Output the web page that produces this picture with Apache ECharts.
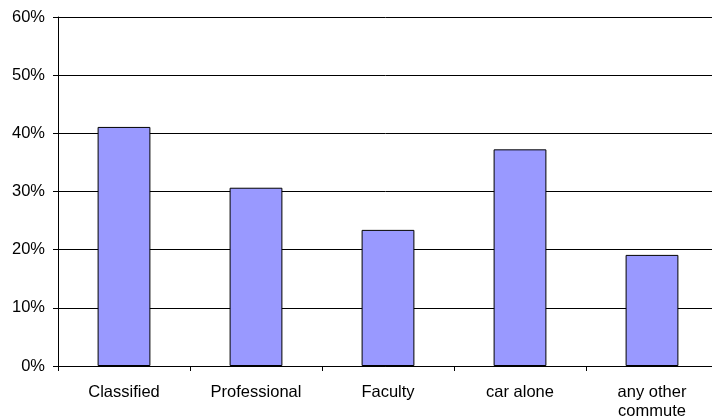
<!DOCTYPE html>
<html>
<head>
<meta charset="utf-8">
<script src="https://cdn.jsdelivr.net/npm/echarts@6/dist/echarts.min.js"></script>
<style>html,body{margin:0;padding:0;background:#fff;}#c{width:712px;height:418px;}</style>
</head>
<body>
<div id="c"></div>
<script>
const categories = ['Classified', 'Professional', 'Faculty', 'car alone', 'any other\ncommute'];
const values = [41.1, 30.65, 23.4, 37.25, 19.1];
const yTicks = [0, 10, 20, 30, 40, 50, 60];

const chart = echarts.init(document.getElementById('c'), null, {renderer: 'canvas'});
chart.setOption({
  animation: false,
  backgroundColor: '#ffffff',
  grid: {left: 58, right: -6, top: 17, bottom: 52, containLabel: false, outerBoundsMode: 'none'},
  xAxis: {
    type: 'category',
    data: categories,
    boundaryGap: true,
    axisLine: {lineStyle: {color: '#000', width: 1}},
    axisTick: {show: true, length: 5, lineStyle: {color: '#000'}},
    axisLabel: {color: '#000', fontFamily: 'Liberation Sans, Arial, sans-serif', fontSize: 16.5, margin: 17, lineHeight: 19, interval: 0}
  },
  yAxis: {
    type: 'value',
    min: yTicks[0],
    max: yTicks[yTicks.length - 1],
    interval: 10,
    axisLine: {show: true, lineStyle: {color: '#000', width: 1}},
    axisTick: {show: true, length: 5, lineStyle: {color: '#000'}},
    axisLabel: {color: '#000', fontFamily: 'Liberation Sans, Arial, sans-serif', fontSize: 16.5, margin: 13, formatter: v => v + '%'},
    splitLine: {show: true, lineStyle: {color: '#000', width: 1}}
  },
  series: [{
    type: 'bar',
    data: values,
    barWidth: '40%',
    itemStyle: {color: '#9999ff', borderColor: '#000', borderWidth: 1}
  }]
});
</script>
</body>
</html>
